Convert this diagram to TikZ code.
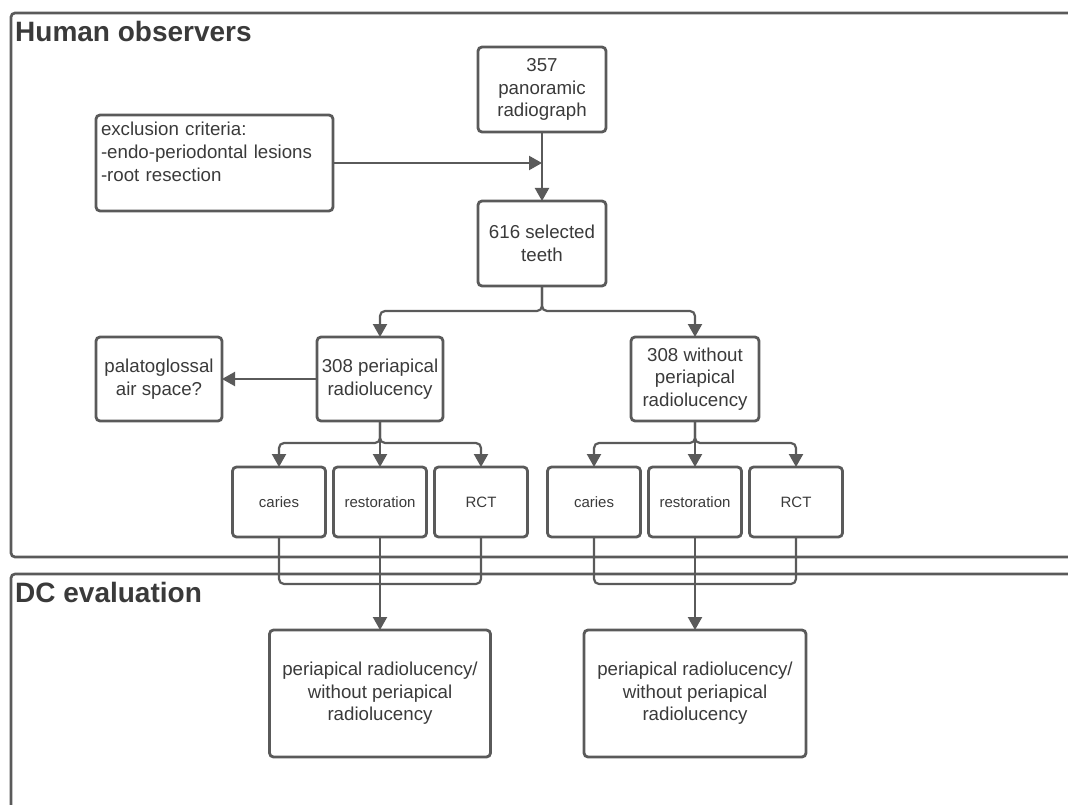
\documentclass[tikz,border=0pt]{standalone}
\usepackage{fontspec}
\setmainfont{Liberation Sans}
\usetikzlibrary{positioning,arrows.meta}

\definecolor{linegray}{HTML}{5A5A5A}
\definecolor{textgray}{HTML}{3A3A3A}

\begin{document}
\begin{tikzpicture}[x=1pt,y=-1pt,>={Triangle[length=13pt,width=14pt]},
    box/.style={draw=linegray,line width=2.8pt,rounded corners=4pt,outer sep=0pt,inner sep=2pt,
        align=center,text=textgray,font=\fontsize{18.7}{22.6}\selectfont},
    smallbox/.style={box,minimum width=93pt,minimum height=70pt,font=\fontsize{15}{18}\selectfont},
    conn/.style={draw=linegray,line width=2.2pt,rounded corners=5pt},
    frame/.style={draw=linegray,line width=2.7pt,rounded corners=4pt},
    title/.style={anchor=base west,inner sep=0pt,text=textgray,font=\fontsize{28}{32}\selectfont\bfseries}]

    \clip (0,0) rectangle (1068,805);

    %Cadres
    \draw[frame] (11,13) rectangle (1100,557);
    \draw[frame] (11,574) rectangle (1100,840);
    \node[title] (humantitle) at (15,42) {Human observers};
    \node[title] (dctitle) at (15,602) {DC evaluation};

    %Boites du haut
    \node[box,minimum width=128pt,minimum height=85pt] (panoramic) at (542,89.5) {357\\panoramic\\radiograph};
    \node[box,below=69pt of panoramic,minimum width=128pt,minimum height=85pt] (selected) {616 selected\\teeth};
    \node[box,align=left,text width=227pt,inner xsep=5pt,minimum height=96pt] (exclusion) at (214.5,163)
        {exclusion criteria:\\-endo-periodontal lesions\\-root resection\\\mbox{}};

    %Deux groupes
    \node[box,minimum width=126pt,minimum height=84pt] (periapical) at (380,379) {308 periapical\\radiolucency};
    \node[box,minimum width=128pt,minimum height=84pt] (without) at (695,379) {308 without\\periapical\\radiolucency};
    \node[box,left=95pt of periapical,minimum width=126pt,minimum height=84pt] (palatoglossal) {palatoglossal\\air space?};

    \node[smallbox,below=46pt of periapical] (restone) {restoration};
    \node[smallbox,left=8pt of restone] (cariesone) {caries};
    \node[smallbox,right=8pt of restone] (rctone) {RCT};
    \node[smallbox,below=46pt of without] (resttwo) {restoration};
    \node[smallbox,left=8pt of resttwo] (cariestwo) {caries};
    \node[smallbox,right=8pt of resttwo] (rcttwo) {RCT};

    %Evaluation DC
    \node[box,below=93pt of restone,minimum width=221pt,minimum height=127pt] (evalone)
        {periapical radiolucency/\\without periapical\\radiolucency};
    \node[box,below=93pt of resttwo,minimum width=222pt,minimum height=127pt] (evaltwo)
        {periapical radiolucency/\\without periapical\\radiolucency};

    %Fleches
    \draw[conn,->] (panoramic) -- (selected);
    \draw[conn,->] (exclusion.east) -- (exclusion.east -| panoramic.south);
    \draw[conn,->] (selected.south) -- ++(0,25) -| (periapical.north);
    \draw[conn,->] (selected.south) -- ++(0,25) -| (without.north);
    \draw[conn,->] (periapical.west) -- (palatoglossal.east);

    \draw[conn,->] (periapical.south) -- ++(0,22) -| (cariesone.north);
    \draw[conn,->] (periapical.south) -- ++(0,22) -| (rctone.north);
    \draw[conn,->] (periapical.south) -- (restone.north);
    \draw[conn,->] (without.south) -- ++(0,22) -| (cariestwo.north);
    \draw[conn,->] (without.south) -- ++(0,22) -| (rcttwo.north);
    \draw[conn,->] (without.south) -- (resttwo.north);

    \draw[conn] (cariesone.south) -- ++(0,47) -| (rctone.south);
    \draw[conn,->] (restone.south) -- (evalone.north);
    \draw[conn] (cariestwo.south) -- ++(0,47) -| (rcttwo.south);
    \draw[conn,->] (resttwo.south) -- (evaltwo.north);

\end{tikzpicture}
\end{document}
